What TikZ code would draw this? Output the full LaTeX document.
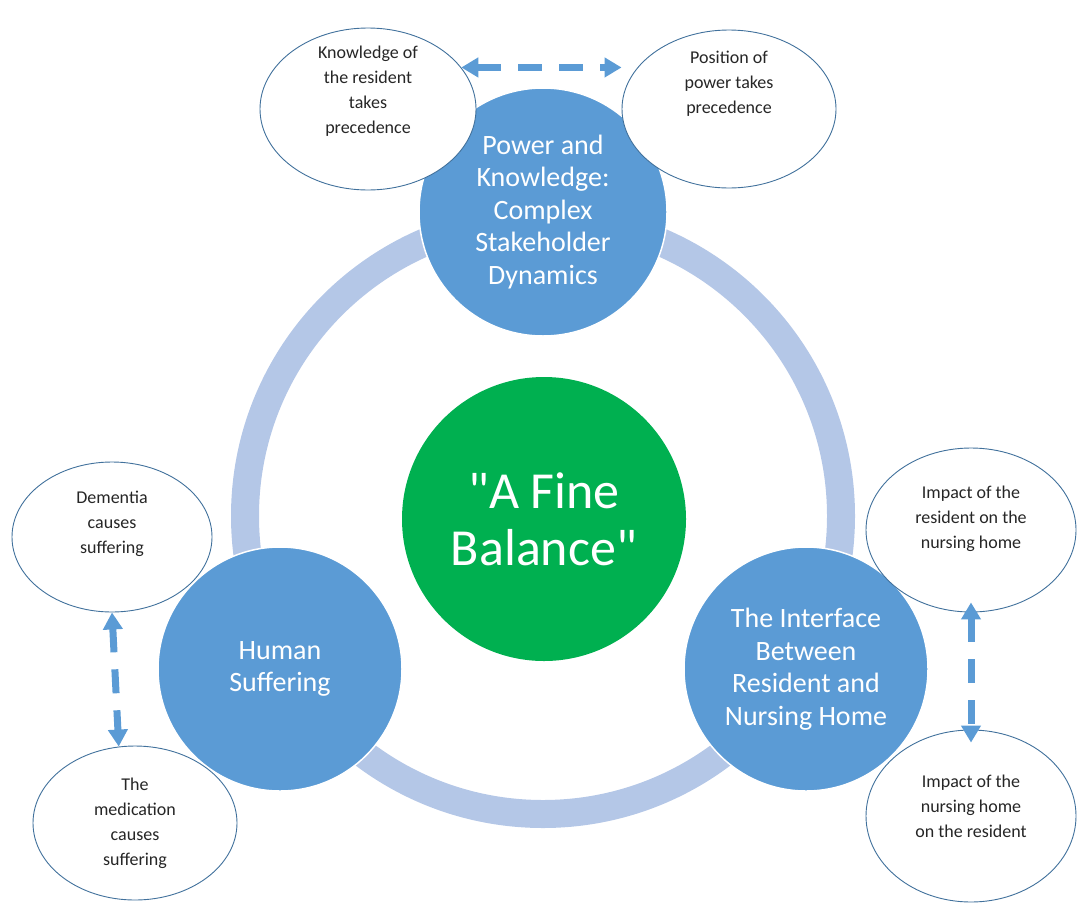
\documentclass[tikz,border=0pt]{standalone}
\usepackage{fontspec}
\setmainfont{Carlito}
\usetikzlibrary{arrows.meta,shapes.geometric}
\definecolor{hubblue}{HTML}{5B9BD5}
\definecolor{ringblue}{HTML}{B4C7E7}
\definecolor{balgreen}{HTML}{00B050}
\definecolor{edgeblue}{HTML}{41719C}

\begin{document}
\begin{tikzpicture}[x=1pt,y=-1pt,
	hub/.style={circle, fill=hubblue, draw=white, line width=1.5pt, text=white, align=center,
		minimum size=244pt, inner sep=0pt, font=\fontsize{28}{32.5}\selectfont},
	bubble/.style={ellipse, draw=edgeblue, fill=white, line width=0.9pt, inner sep=0pt},
	bubtext/.style={align=center, text=black!85, font=\fontsize{18}{25}\selectfont},
	dasharrow/.style={draw=hubblue, line width=7pt, dash pattern=on 24pt off 17pt,
		arrows={Triangle[width=19pt,length=17pt]-Triangle[width=19pt,length=17pt]}}]
			\useasboundingbox (0,0) rectangle (1078,905);
			% ring behind the hubs
			\draw [ringblue, line width=28pt] (543,516) circle [radius=298pt];
			\node [circle, fill=balgreen, minimum size=284pt, text=white, align=center,
				font=\fontsize{52}{57}\selectfont] (bal) at (544,519) {\textquotedbl A Fine\\Balance\textquotedbl};
			% hubs
			\node [hub, minimum size=248pt] (pk) at (543,212) {Power and\\Knowledge:\\Complex\\Stakeholder\\Dynamics};
			\node [hub] (hs) at (280,669) {Human\\Suffering};
			\node [hub] (ri) at (806,669) {The Interface\\Between\\Resident and\\Nursing Home};
			% bubbles
			\node [bubble, minimum width=216pt, minimum height=162pt] (kr) at (368,109) {};
			\node [bubtext] (kr-t) at ([yshift=18pt]kr.center) {Knowledge of\\the resident\\takes\\precedence};
			\node [bubble, minimum width=214pt, minimum height=158pt] (pp) at (729,109) {};
			\node [bubtext] (pp-t) at ([yshift=25pt]pp.center) {Position of\\power takes\\precedence};
			\node [bubble, minimum width=200pt, minimum height=150pt] (dem) at (112,537) {};
			\node [bubtext] (dem-t) at ([yshift=13pt]dem.center) {Dementia\\causes\\suffering};
			\node [bubble, minimum width=204pt, minimum height=154pt] (med) at (135,823) {};
			\node [bubtext] (med-t) at (med.center) {The\\medication\\causes\\suffering};
			\node [bubble, minimum width=210pt, minimum height=164pt] (imr) at (971,530) {};
			\node [bubtext] (imr-t) at ([yshift=11pt]imr.center) {Impact of the\\resident on the\\nursing home};
			\node [bubble, minimum width=210pt, minimum height=172pt] (imn) at (971,816) {};
			\node [bubtext] (imn-t) at ([yshift=10pt]imn.center) {Impact of the\\nursing home\\on the resident};
			% two-way arrows
			\draw [dasharrow] (kr.24) -- (kr.24 -| pp.west);
			\draw [dasharrow] (dem.south) -- (med.102);
			\draw [dasharrow] ([yshift=10pt]imr.south) -- ([yshift=-13pt]imn.north);
		\end{tikzpicture}
\end{document}
